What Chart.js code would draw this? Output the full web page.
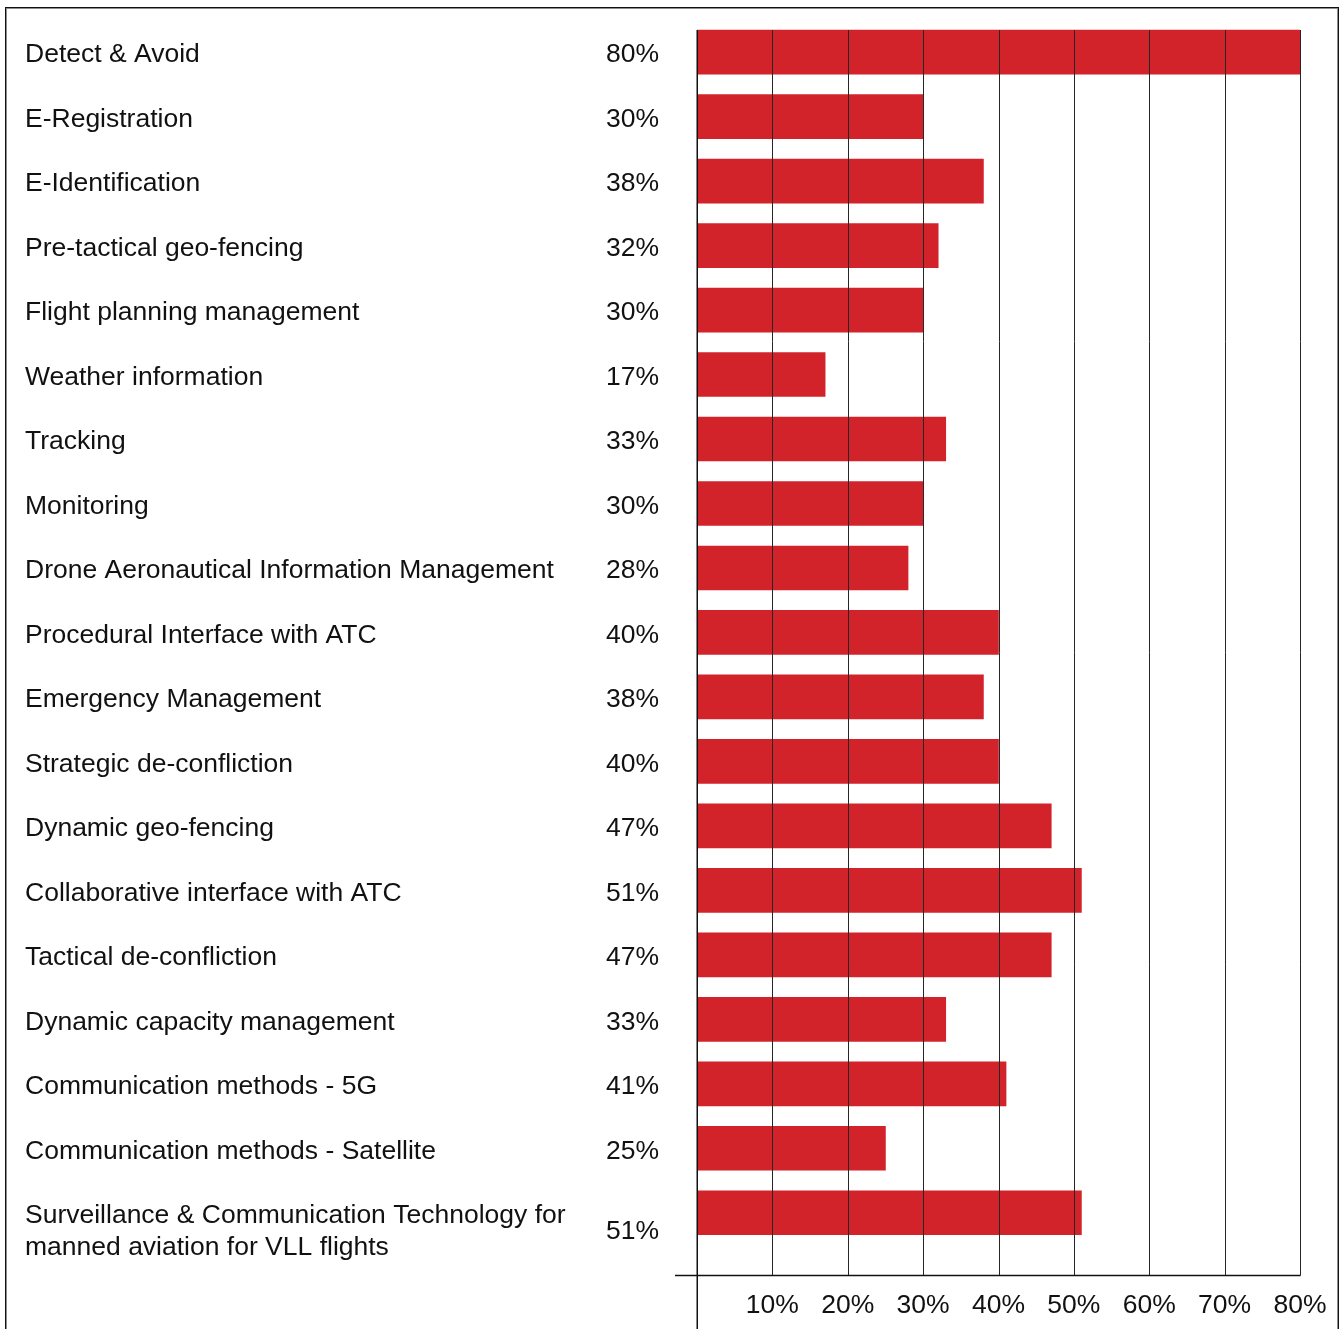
<!DOCTYPE html>
<html>
<head>
<meta charset="utf-8">
<title>U-space services</title>
<script src="https://cdn.jsdelivr.net/npm/chart.js@4.4.1/dist/chart.umd.min.js"></script>
<style>
  html, body { margin: 0; padding: 0; background: #fff; overflow: hidden; }
  #wrap { position: relative; width: 1343px; height: 1329px; }
  #chart { position: absolute; left: 0; top: 0; }
  #frame {
    position: absolute; left: 5px; top: 7px; width: 1332px; height: 1400px;
    border: 1px solid #111;
    box-shadow: inset 1px 1px 0 #8c8c8c, inset -1px 0 0 #8c8c8c;
    pointer-events: none;
  }
</style>
</head>
<body>
<div id="wrap">
  <canvas id="chart" width="1343" height="1329"></canvas>
  <div id="frame"></div>
</div>
<script>
// Services, in display order (top to bottom)
const categories = [
  'Detect & Avoid',
  'E-Registration',
  'E-Identification',
  'Pre-tactical geo-fencing',
  'Flight planning management',
  'Weather information',
  'Tracking',
  'Monitoring',
  'Drone Aeronautical Information Management',
  'Procedural Interface with ATC',
  'Emergency Management',
  'Strategic de-confliction',
  'Dynamic geo-fencing',
  'Collaborative interface with ATC',
  'Tactical de-confliction',
  'Dynamic capacity management',
  'Communication methods - 5G',
  'Communication methods - Satellite',
  ['Surveillance & Communication Technology for', 'manned aviation for VLL flights']
];

// Share of respondents per service (%)
const shares = [80, 30, 38, 32, 30, 17, 33, 30, 28, 40, 38, 40, 47, 51, 47, 33, 41, 25, 51];

// Horizontal axis ticks (%)
const tickValues = [0, 10, 20, 30, 40, 50, 60, 70, 80];

const FONT_FAMILY = '"Liberation Sans", Arial, Helvetica, sans-serif';
const FONT_SIZE = 26.5;
const LINE_HEIGHT = 1.22;
const LABEL_SHIFT = 3;   // text sits slightly below the bar centre line
const TEXT = '#111';
const BAR = '#d2232b';

Chart.defaults.font.family = FONT_FAMILY;
Chart.defaults.font.size = FONT_SIZE;
Chart.defaults.color = TEXT;

// Two-line names hang down from the bar centre line
const tickText = label => (Array.isArray(label) ? [''].concat(label) : label);

// Percentage column, vertical rules drawn over the bars, and the base axis
const overlay = {
  id: 'overlay',
  afterDatasetsDraw(chart) {
    const { ctx, chartArea, scales: { x } } = chart;
    const meta = chart.getDatasetMeta(0);
    const first = meta.data[0];
    const gridTop = Math.round(first.y - first.height / 2);
    const axisY = Math.round(chartArea.bottom + 30) + 0.5;
    const lineH = FONT_SIZE * LINE_HEIGHT;

    const line = (x1, y1, x2, y2) => {
      ctx.beginPath();
      ctx.moveTo(x1, y1);
      ctx.lineTo(x2, y2);
      ctx.stroke();
    };

    ctx.save();
    ctx.font = FONT_SIZE + 'px ' + FONT_FAMILY;
    ctx.fillStyle = TEXT;
    ctx.textAlign = 'right';
    ctx.textBaseline = 'middle';
    meta.data.forEach((bar, i) => {
      const n = Array.isArray(categories[i]) ? categories[i].length : 1;
      const dy = LABEL_SHIFT + (n - 1) * lineH / 2;
      ctx.fillText(shares[i] + '%', chartArea.left - 38, bar.y + dy);
    });

    ctx.strokeStyle = '#262626';
    ctx.lineWidth = 1;
    x.ticks.forEach(t => {
      if (t.value === 0) return;
      const px = Math.round(x.getPixelForValue(t.value)) + 0.5;
      line(px, gridTop, px, axisY);
    });

    ctx.strokeStyle = '#111';
    ctx.lineWidth = 1.5;
    const zx = Math.round(x.getPixelForValue(0)) + 0.25;
    line(zx, gridTop, zx, chart.height);

    ctx.lineWidth = 1.3;
    line(chartArea.left - 22, axisY, x.getPixelForValue(tickValues[tickValues.length - 1]) + 0.5, axisY);
    ctx.restore();
  }
};

new Chart(document.getElementById('chart'), {
  type: 'bar',
  data: {
    labels: categories,
    datasets: [{
      data: shares,
      backgroundColor: BAR,
      borderWidth: 0,
      barThickness: 44
    }]
  },
  options: {
    indexAxis: 'y',
    responsive: false,
    animation: false,
    layout: { padding: { left: 25, top: 19.9, right: 43, bottom: 0 } },
    plugins: {
      legend: { display: false },
      tooltip: { enabled: false }
    },
    scales: {
      x: {
        min: 0,
        max: 80,
        afterBuildTicks: s => { s.ticks = tickValues.map(v => ({ value: v })); },
        afterFit: s => {
          s.height = 84;
          s.paddingLeft = 0;
          s.paddingRight = 0;
        },
        grid: { display: false, drawTicks: false },
        border: { display: false },
        ticks: {
          padding: 45,
          color: TEXT,
          font: { size: FONT_SIZE },
          maxRotation: 0,
          callback: v => (v === 0 ? '' : v + '%')
        }
      },
      y: {
        afterFit: s => {
          s.width = 672;
          s.paddingTop = 0;
          s.paddingBottom = 0;
        },
        grid: { display: false, drawTicks: false },
        border: { display: false },
        ticks: {
          crossAlign: 'far',
          autoSkip: false,
          labelOffset: LABEL_SHIFT,
          color: TEXT,
          font: { size: FONT_SIZE, lineHeight: LINE_HEIGHT },
          callback: function (v, i) { return tickText(categories[i]); }
        }
      }
    }
  },
  plugins: [overlay]
});
</script>
</body>
</html>
